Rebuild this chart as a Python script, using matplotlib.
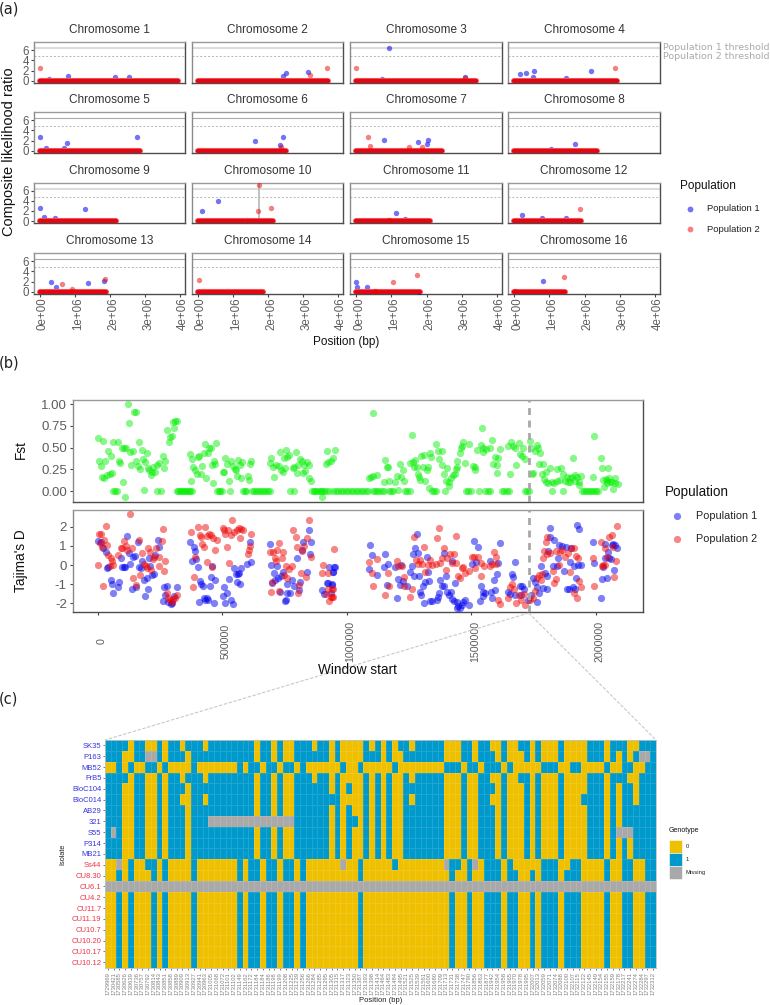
import numpy as np
import matplotlib
matplotlib.use("Agg")
import matplotlib.pyplot as plt
from matplotlib.colors import ListedColormap
from matplotlib.lines import Line2D
from matplotlib.patches import Rectangle
from matplotlib.transforms import ScaledTranslation

plt.rcParams['font.family'] = ['Liberation Sans', 'DejaVu Sans']

W, H = 770, 1005

# ====== Panel (a): composite likelihood ratio ======
chrom_len = [3.95, 3.72, 3.40, 2.91, 2.85, 2.52, 2.44, 2.34, 2.16, 2.14, 2.10, 1.91, 1.88, 1.86, 1.81, 1.45]
threshold_pop1 = 6.39
threshold_pop2 = 4.77

# (chromosome, position in Mb, CLR)
clr_pop1 = [
    (1, 0.26, 0.3), (1, 0.8, 0.97), (1, 2.15, 0.77), (1, 2.53, 0.77),
    (2, 2.43, 0.9), (2, 2.5, 1.55), (2, 3.14, 1.68),
    (3, 0.73, 0.3), (3, 0.94, 6.39), (3, 3.1, 0.84),
    (4, 0.17, 1.35), (4, 0.35, 1.55), (4, 0.56, 1.94), (4, 0.55, 0.77), (4, 1.46, 0.5), (4, 2.17, 2.0),
    (5, 0.0, 2.77), (5, 0.17, 0.65), (5, 0.76, 1.6), (5, 0.69, 0.5), (5, 2.77, 2.77),
    (6, 1.64, 1.94), (6, 2.43, 2.77), (6, 2.34, 1.1),
    (7, 0.8, 2.13), (7, 1.75, 1.8), (7, 2.04, 2.13), (7, 2.0, 1.35),
    (8, 1.74, 1.42), (8, 1.05, 0.3),
    (9, 0.0, 2.65), (9, 0.11, 0.77), (9, 0.44, 0.7), (9, 1.28, 2.39),
    (10, 0.11, 1.94), (10, 0.57, 3.94), (10, 1.41, 0.2),
    (11, 1.12, 1.55), (11, 1.39, 0.45),
    (12, 0.24, 1.29), (12, 0.8, 0.65), (12, 1.46, 0.65),
    (13, 0.32, 1.87), (13, 0.47, 0.9), (13, 1.37, 1.8), (13, 1.83, 2.2),
    (14, 0.15, 0.2), (14, 0.85, 0.25),
    (15, 0.0, 1.87), (15, 0.03, 0.9), (15, 0.3, 0.97), (15, 1.78, 0.05),
    (16, 0.82, 2.13),
]
clr_pop2 = [
    (1, 0.0, 2.45),
    (2, 3.19, 1.16), (2, 3.68, 2.58),
    (3, 0.0, 2.58), (3, 3.1, 0.65),
    (4, 2.87, 2.58),
    (6, 2.38, 0.77),
    (7, 0.33, 2.65), (7, 0.39, 0.97), (7, 1.49, 0.7), (7, 1.88, 0.7),
    (10, 1.73, 7.23), (10, 1.70, 2.0), (10, 2.09, 2.52),
    (11, 0.94, 0.2),
    (12, 1.87, 2.39),
    (13, 0.62, 1.6), (13, 0.91, 0.58), (13, 1.85, 2.5),
    (14, 0.02, 2.32),
    (15, 0.53, 0.2), (15, 1.06, 2.0), (15, 1.74, 3.2),
    (16, 0.02, 0.2), (16, 1.42, 2.84),
]
chrom10_peak = 1.73

# ====== Panel (b): Fst and Tajima's D, window start in kb ======
focal_window = 1731
fst_zero_start = [
    62, 68, 75, 236, 252, 316, 322, 328, 334, 340, 346, 352, 358, 364, 370, 376, 480, 486, 492, 497, 531,
    584, 590, 596, 618, 626, 634, 642, 650, 658, 666, 674, 682, 690, 772, 788,
    860, 867, 874, 881, 888, 895, 902, 909, 915, 930, 946, 955, 965, 975, 985, 995, 1005, 1015, 1025, 1035,
    1045, 1055, 1065, 1075, 1085, 1104, 1112, 1120, 1130, 1142, 1150, 1171, 1178, 1186, 1234, 1242, 1252,
    1341, 1350, 1360, 1395, 1479, 1488, 1497, 1531, 1556, 1566, 1575, 1623, 1632, 1642, 1650, 1716, 1724, 1732,
    1824, 1870, 1944, 1952, 1960, 1968, 1976, 1985, 1993, 2002, 2010,
]
fst_windows = [
    (0, .605), (20, .58), (5, .345), (11, .285), (15, .165), (29, .345), (25, .15), (38, .18), (50, .19), (58, .205),
    (60, .567), (80, .563), (42, .465), (51, .405), (100, .1), (110, -.065), (86, .35), (90, .32), (96, .49), (105, .49),
    (114, .49), (120, 1.0), (126, .78), (145, .905), (153, .905), (129, .45), (142, .46), (134, .30), (151, .345),
    (165, .567), (162, .29), (176, .467), (181, .37), (189, .33), (196, .433), (170, .253), (185, .01), (201, .26),
    (206, .24), (212, .18), (217, .215), (222, .275), (228, .215), (236, .30), (245, .32), (261, .405), (264, .27),
    (271, .345), (277, .70), (285, .56), (289, .625), (296, .63), (304, .73), (301, .79), (310, .805), (318, .81),
    (370, .43), (375, .115), (379, .365), (383, .28), (391, .24), (397, .195), (401, .395), (407, .405), (415, .195),
    (419, .29), (426, .433), (430, .54), (435, .155), (444, .44), (446, .50), (453, .50), (457, .30), (461, .095),
    (466, .345), (470, .31), (476, .55), (501, .215), (507, .215), (511, .375), (518, .31), (525, .115), (536, .345),
    (541, .29), (549, .25), (555, .24), (560, .175), (564, .355), (570, .30), (576, .145), (580, .33), (602, .175),
    (606, .13), (611, .305), (615, .35), (690, .32), (696, .38), (706, .165), (705, .28), (716, .30), (726, .29),
    (731, .445), (734, .24), (742, .215), (748, .375), (753, .27), (756, .467), (761, .39), (769, .415), (782, .26),
    (788, .28), (795, .445), (800, .205), (805, .30), (812, .37), (819, .345), (823, .21), (828, .30), (833, .23),
    (840, .33), (847, .30), (849, .145), (856, .12), (900, -.07), (915, .305), (919, .46), (926, .33), (935, .35),
    (946, .375), (953, .47), (1104, .897), (1096, .165), (1091, .153), (1104, .176), (1120, .18), (1150, .10),
    (1171, .12), (1155, .356), (1163, .28), (1167, .28), (1207, .01), (1194, .103), (1200, .172), (1214, .314),
    (1225, .245), (1217, .165), (1230, .12), (1261, .644), (1254, .318), (1265, .33), (1274, .356), (1268, .276),
    (1281, .272), (1285, .195), (1294, .126), (1292, .165), (1298, .40), (1310, .414), (1308, .272), (1314, .12),
    (1328, .272), (1321, .24), (1335, .44), (1330, .03), (1340, .387), (1360, .54), (1365, .46), (1381, .46),
    (1371, .368), (1381, .30), (1391, .195), (1401, .26), (1399, .115), (1412, .107), (1417, .153), (1411, .057),
    (1426, .184), (1435, .19), (1442, .28), (1444, .345), (1439, .25), (1455, .44), (1458, .50), (1466, .567),
    (1463, .517), (1474, .318), (1490, .54), (1509, .287), (1514, .272), (1517, .24), (1525, .47), (1538, .53),
    (1545, .728), (1549, .45), (1549, .49), (1558, .48), (1576, .50), (1584, .586), (1594, .39), (1609, .383),
    (1589, .31), (1602, .30), (1605, .207), (1616, .48), (1648, .52), (1656, .19), (1660, .56), (1669, .52),
    (1676, .50), (1690, .548), (1706, .50), (1680, .30), (1694, .425), (1703, .40), (1714, .368), (1737, .575),
    (1743, .19), (1741, .49), (1750, .21), (1755, .46), (1763, .53), (1767, .50), (1777, .433), (1771, .306),
    (1790, .306), (1786, .195), (1794, .138), (1801, .215), (1801, .107), (1810, .088), (1817, .26), (1824, .107),
    (1833, .088), (1846, .12), (1846, .253), (1860, .26), (1857, .13), (1870, .19), (1877, .115), (1884, .165),
    (1887, .10), (1895, .145), (1897, .10), (1904, .165), (1908, .375), (1917, .115), (1924, .165), (1933, .07),
    (1940, .176), (1915, .184), (1931, .10), (1991, .165), (1995, .636), (2020, .383), (2025, .26), (2051, .27),
    (2031, .126), (2035, .05), (2042, .138), (2047, .12), (2055, .146), (2065, .107), (2069, .023), (2078, .146),
    (2078, .088), (2088, .077), (2058, .107), (2045, .088),
]
tajima_pop1 = [
    (0, 1.28), (11, 1.23), (21, .88), (31, .67), (38, -.18), (42, -.09), (51, -.77), (56, -.98), (62, -1.47), (79, -1.14),
    (86, -.89), (91, .35), (98, -.12), (105, -.12), (110, -.12), (115, 1.51), (126, .65), (130, .04), (135, -1.23),
    (142, .44), (149, .47), (151, -1.14), (161, 1.18), (165, -.09), (172, -.18), (178, .21), (185, -.81), (190, -1.61),
    (196, -.67), (201, -1.23), (206, .35), (209, -.04), (216, -.53), (225, -.47), (230, .53), (241, 1.3), (247, .96),
    (261, -1.91), (264, -1.16), (276, -1.1), (271, -1.58), (283, -1.93), (292, -2.02), (296, -2), (316, -1.14), (307, -1.6),
    (371, 1.19), (379, .23), (386, .96), (394, .32), (391, .74), (402, -.12), (406, -1.95), (410, -.84), (415, -.98),
    (421, -1.12), (425, -1.72), (430, -1.82), (437, -1.72), (442, -1.84), (450, -1.12), (456, -.63), (458, -.05), (466, -2),
    (472, -.79), (501, -1.61), (507, -1.14), (512, -1.98), (520, -1.49), (527, -.74), (535, -1.84), (541, -2.05), (548, -.14),
    (553, -.49), (561, -.47), (567, -.44), (557, -.89), (571, -.98), (576, -.14), (600, .04), (615, .18), (611, 1.18),
    (690, 1.1), (695, -.02), (701, -.96), (706, -.4), (712, -.79), (719, -.07), (725, -.67), (735, -.6), (742, -.39),
    (732, -1.4), (750, -1.9), (756, -1.84), (761, -1.44), (772, -1.44), (761, -1.02), (780, -.79), (787, -1.12), (800, .35),
    (808, -1.32), (812, -.91), (819, .79), (825, 1.18), (840, -.35), (846, 1.81), (855, 1.23), (850, .6),
    (900, -1.33), (908, -1.54), (919, -.96), (926, -.96), (941, -1.05), (930, -.09), (951, -.09), (946, -.35), (936, -1.44),
    (949, -.09), (943, -.35), (939, -1.0), (1095, 1.04), (1100, .51), (1091, -.21), (1120, -.51), (1155, .58), (1150, -.09),
    (1167, .04), (1160, -1.05), (1195, -.1), (1200, -1.72), (1206, -.74), (1214, -1.05), (1225, -.86), (1217, 0), (1241, -1.1),
    (1255, -.35), (1262, -.05), (1265, .58), (1270, -.58), (1274, .89), (1284, .61), (1289, -.58), (1281, 1.63), (1294, -1.4),
    (1300, -1.58), (1305, -1.1), (1310, -2), (1316, -.88), (1321, .44), (1329, -.82), (1325, -.35), (1336, -1.91), (1344, -1.89),
    (1361, -1.84), (1365, -1.68), (1371, -1.49), (1375, -.81), (1381, -1.1), (1389, -1.12), (1389, .61), (1400, -.58),
    (1404, -1.4), (1410, -1.58), (1418, -1.4), (1424, .23), (1422, -1.79), (1435, -.93), (1431, -1.88), (1442, -1.93),
    (1448, -2.14), (1444, -2.25), (1455, -2.25), (1462, -2.1), (1468, -1.96), (1475, -1.84), (1490, -2.1), (1510, 1.28),
    (1526, .96), (1505, .04), (1518, .14), (1534, -1.89), (1540, -1.1), (1546, -1.61), (1549, -1.4), (1557, -1.44), (1576, .21),
    (1581, -1.4), (1585, -1.72), (1590, -.79), (1596, -1.3), (1605, -.47), (1616, 1.16), (1609, .09), (1649, -1.4), (1657, -1.53),
    (1664, -.49), (1669, -.61), (1676, .14), (1676, -1.58), (1694, -1.1), (1703, -1.1), (1712, -1.23), (1699, -1.58),
    (1730, -1.84), (1739, -1.58), (1747, -.67), (1755, -.91), (1763, -1.14), (1764, -1.95), (1773, -1.49), (1781, -.04),
    (1787, -1.19), (1797, -.44), (1803, -.58), (1803, -1.23), (1810, .75), (1815, 1.95), (1817, 1.46), (1828, -.04), (1834, 1.32),
    (1846, -.05), (1854, 1.05), (1848, .35), (1864, 1.02), (1873, -.32), (1880, .96), (1884, -1.23), (1892, -1.23), (1895, .18),
    (1899, .91), (1907, -1.14), (1911, -.05), (1917, -1.23), (1920, -.67), (1926, 2.07), (1928, 0), (1935, 1.89), (1941, .02),
    (1990, 1.19), (1995, .1), (2021, -1.72), (2025, -.74), (2031, -.12), (2037, .35), (2038, 1.09), (2045, -.67), (2050, .7),
    (2055, .35), (2061, .32), (2066, 1.05), (2071, 1.09), (2074, -.26), (2078, 1.05), (2085, .88),
]
tajima_pop2 = [
    (0, 0), (5, 1.63), (11, 1.63), (8, 1.14), (21, -1.12), (31, 2.05), (38, 1.05), (16, .96), (24, 1.32), (42, .53), (51, .35),
    (55, .23), (48, -.04), (62, 0), (82, .53), (91, .88), (98, .88), (105, 1.28), (113, 1.02), (115, .79), (135, .91), (130, 2.67),
    (142, -.7), (151, -1.05), (165, 1.32), (170, -.53), (178, .61), (186, .04), (192, -.04), (201, .91), (209, .7), (196, -.18),
    (212, -.26), (220, .3), (225, .44), (233, .88), (244, .44), (247, -.05), (257, 1.28), (261, 1.88), (264, -.3), (271, .21),
    (279, -1.49), (283, -1.72), (289, -1.84), (296, -1.93), (303, -1.79), (310, -1.72), (316, -1.58),
    (375, 1.75), (381, -1.14), (386, -.65), (390, .44), (400, 1.98), (410, 1.58), (414, 1.46), (418, 1.09), (425, .93), (430, 1.98),
    (437, 1.54), (446, 1.61), (453, 1.58), (464, 1.4), (458, -.09), (437, .14), (472, .79), (477, 1.3), (501, 1.96), (511, 1.61),
    (508, 1.82), (518, .96), (525, .12), (524, 1.82), (533, 1.58), (540, 2.35), (548, 1.75), (560, 1.84), (566, 1.96), (571, 1.44),
    (576, 1.88), (584, 1.84), (602, .58), (607, .79), (611, 1.02), (615, 1.63),
    (690, .7), (705, .7), (695, -1.4), (701, -.91), (712, .35), (721, .79), (726, 1.16), (716, .21), (739, .35), (745, .67),
    (727, -1.37), (748, -.53), (756, -.05), (761, -.67), (769, -.23), (781, -.04), (785, 1.84), (796, 1.46), (800, .93), (808, -1.05),
    (805, -1.44), (816, -.42), (821, .75), (828, 1.02), (836, -.61), (839, 1.4), (846, 2.37), (855, .4),
    (899, -.42), (906, 0), (923, -.4), (950, .82), (946, -1.23), (917, -1.54), (930, -1.89), (936, -1.67), (946, -1.67), (926, -1.23),
    (939, -1.26), (939, -1.67), (1091, .14), (1100, -.4), (1104, -1.1), (1120, .33), (1155, -1.58), (1167, -.4), (1171, -1.1),
    (1200, .21), (1207, -.05), (1222, -.05), (1230, -1.1), (1230, -.61), (1254, -1.68), (1262, -1.23), (1270, 1.46), (1278, .26),
    (1284, .04), (1294, .26), (1301, .04), (1310, .96), (1314, -.35), (1328, 0), (1335, .26), (1341, 0), (1359, .04), (1364, 1.39),
    (1369, 1.95), (1375, .09), (1381, .35), (1391, .88), (1399, -.26), (1404, .35), (1415, .58), (1422, .09), (1431, .56), (1440, 1.54),
    (1438, .09), (1448, -.56), (1455, -.7), (1462, -.18), (1468, -.09), (1475, -.44), (1489, -.32), (1502, .44), (1511, .44),
    (1515, -.18), (1526, .44), (1540, .09), (1540, -.58), (1553, -.05), (1576, -.05), (1585, .04), (1592, .68), (1598, .4), (1598, .05),
    (1609, -1.84), (1616, -2.02), (1649, -1.72), (1656, -1.14), (1665, -1.02), (1672, -1.23), (1680, -2), (1690, -1.58), (1699, -1.84),
    (1710, -1.54), (1716, -2.09), (1737, -1.81), (1747, -1.75), (1755, -1.37), (1763, -.7), (1774, -.53), (1779, -.79), (1785, -.49),
    (1790, .39), (1794, .75), (1801, 1.23), (1806, 1.46), (1803, .56), (1817, .61), (1828, -.3), (1834, -.96), (1841, -.74), (1841, .75),
    (1857, .7), (1854, 0), (1866, .79), (1877, .44), (1887, .61), (1895, -.35), (1900, .88), (1911, .88), (1920, .49), (1929, .39),
    (1935, -.84), (1940, -1.14), (1911, -1.44), (1924, -1.72), (1990, .35), (1995, -1.1), (2021, 1.23), (2025, -.04), (2031, 0),
    (2039, 0), (2045, .44), (2054, 1.46), (2065, 1.58), (2071, .96), (2074, -.61), (2080, .21), (2085, 2.02), (2038, .91),
]

# ====== Panel (c): genotype table, 0 / 1 / M(issing), one string per isolate ======
isolates = ['SK35', 'P163', 'MB52', 'FrB5', 'BloC104', 'BloC014', 'AB29', '321', 'S55', 'P314', 'MB21',
            'Ss44', 'CU8.30', 'CU6.1', 'CU4.2', 'CU11.7', 'CU11.19', 'CU10.7', 'CU10.20', 'CU10.17', 'CU10.12']
n_pop1_isolates = 11
snp_positions = [
    1729969, 1730421, 1730585, 1730626, 1730639, 1730736, 1730757, 1730792, 1730814, 1730843,
    1730851, 1730858, 1730889, 1730909, 1730913, 1730927, 1730941, 1730963, 1731005, 1731068,
    1731072, 1731101, 1731102, 1731149, 1731162, 1731172, 1731184, 1731184, 1731186, 1731198,
    1731199, 1731208, 1731225, 1731239, 1731256, 1731266, 1731284, 1731285, 1731295, 1731305,
    1731315, 1731317, 1731323, 1731350, 1731387, 1731393, 1731398, 1731414, 1731464, 1731483,
    1731484, 1731495, 1731521, 1731525, 1731539, 1731561, 1731600, 1731680, 1731709, 1731713,
    1731731, 1731738, 1731747, 1731790, 1731856, 1731863, 1731877, 1731942, 1731954, 1731958,
    1731965, 1731970, 1731978, 1731995, 1732007, 1732013, 1732059, 1732071, 1732074, 1732088,
    1732100, 1732107, 1732115, 1732122, 1732145, 1732149, 1732154, 1732155, 1732159, 1732178,
    1732217, 1732241, 1732274, 1732284, 1732297, 1732312,
]
cu_row = "0010100010 1000010000 0001011011 0110100000 0000100000 0000000000 1001001110 1100101110 1110000100 110011"
genotypes = [
    "1111011001 0110111011 1111110110 1001110110 1000010101 0110111110 0011011001 0011010001 0000111011 100111",
    "1110011MM1 0111011111 1111110110 1001111110 1000011101 0011111110 0011011101 0001010001 0000111010 101MM1",
    "0010100110 1000010000 0001011011 0110100000 0100100000 1000000001 1101101110 1000001110 0110000100 110011",
    "1111011001 0110111011 1111110110 1001110110 1000010101 0010111110 0010011001 0011010001 0000111011 100111",
    "1110011001 0111011111 1111110110 1001111110 1010010101 0011111110 0010011101 0001010001 0000111010 110111",
    "1110011001 0110011011 1111110110 1001111111 1000010101 0010111110 0010011001 0001010001 0001111010 110111",
    "1110011001 0111011111 1111110110 1001111110 1010010101 0011111110 0010011101 0001010001 0000111010 111111",
    "1110011001 01110111MM MMMMMMMMMM MMM1111110 1011010101 0011111110 0010011101 0001010001 0000111010 111111",
    "1M10011001 0111011111 1111110110 1001111110 1010010101 0011111110 0010011101 0001010001 000011101M MM1111",
    "1110011001 0111011111 1111110110 1001111110 1010010101 0011111110 0010011101 0001010001 0000111010 101111",
    "1110011001 0111011111 1111110110 1001111110 1010010101 0011111110 0010011101 0001010001 0000111010 101111",
    "00M0100110 1000010000 0001011011 0110100000 0M00100000 100000000M 1101M01110 1000001110 0110000100 110011",
    cu_row,
    "MMMMMMMMMM MMMMMMMMMM MMMMMMMMMM MMMMMMMMMM MMMMMMMMMM MMMMMMMMMM MMMMMMMMMM MMMMMMMMMM MMMMMMMMMM MMMMMM",
    cu_row, cu_row, cu_row, cu_row, cu_row, cu_row, cu_row,
]
genotype_levels = ['0', '1', 'Missing']

# ====== Styles ======
POP1_COLOR = '#0000ee'
POP2_COLOR = '#ee0000'
GENO_COLORS = ['#EFC000', '#0099CC', '#A9A9A9']
TICK_COLOR = '#5c5c5c'


def px_axes(fig, x0, y0, x1, y1):
    ax = fig.add_axes([x0 / W, 1 - y1 / H, (x1 - x0) / W, (y1 - y0) / H])
    ax.spines['top'].set_color('#9a9a9a')
    ax.spines['left'].set_color('#8a8a8a')
    ax.spines['right'].set_color('#4d4d4d')
    ax.spines['bottom'].set_color('#4d4d4d')
    for s in ax.spines.values():
        s.set_linewidth(1.0)
    return ax


def ftext(fig, x, y, s, **kwargs):
    kwargs.setdefault('ha', 'left')
    kwargs.setdefault('va', 'center')
    return fig.text(x / W, 1 - y / H, s, **kwargs)


def shift_labels(ax, fig, dx_px):
    # rotated tick labels sit a little to the right of their ticks, as in ggplot
    offset = ScaledTranslation(dx_px / fig.dpi, 0, fig.dpi_scale_trans)
    for label in ax.get_xticklabels():
        label.set_va('center')
        label.set_transform(label.get_transform() + offset)


fig = plt.figure(figsize=(W / 100, H / 100), dpi=100)

# ------ (a) ------
col_x = [(34, 185), (192, 343), (350, 502), (508, 660)]
row_y = [(42, 83), (112, 153), (183, 223), (253, 294)]
pop1_arr = np.array(clr_pop1)
pop2_arr = np.array(clr_pop2)

for i in range(16):
    r, c = i // 4, i % 4
    ax = px_axes(fig, col_x[c][0], row_y[r][0], col_x[c][1], row_y[r][1])
    chrom = i + 1

    # faint in the odd rows of the reference, thin and darker in the even ones
    if r % 2 == 0:
        ax.axhline(threshold_pop1, color='#dcdcdc', lw=1.5, zorder=1)
    else:
        ax.axhline(threshold_pop1, color='#aaaaaa', lw=0.8, zorder=1)
    ax.axhline(threshold_pop2, color='#b5b5b5', lw=0.7, ls=(0, (2, 2)), zorder=1)
    if chrom == 10:
        ax.axvline(chrom10_peak, color='#b8b8b8', lw=1.2, zorder=1)

    p1 = pop1_arr[pop1_arr[:, 0] == chrom]
    p2 = pop2_arr[pop2_arr[:, 0] == chrom]
    ax.scatter(p1[:, 1], p1[:, 2], s=15, color=POP1_COLOR, alpha=0.55, lw=0, zorder=3)
    ax.plot([0, chrom_len[i]], [0, 0], color='#f36a6a', lw=4.4, solid_capstyle='round', zorder=4)
    ax.plot([0, chrom_len[i]], [0, 0], color='#e30613', lw=3.2, solid_capstyle='round', zorder=4)
    ax.scatter(p2[:, 1], p2[:, 2], s=15, color=POP2_COLOR, alpha=0.5, lw=0, zorder=5)

    ax.set_xlim(-0.171, 4.14)
    ax.set_ylim(-0.39, 7.55)
    ax.set_title(f"Chromosome {chrom}", fontsize=8.5, color='#333333', pad=6.5)
    ax.set_xticks([0, 1, 2, 3, 4])
    ax.set_yticks([0, 2, 4, 6])
    ax.tick_params(length=2, width=0.8, color='#444444', labelsize=8.3, labelcolor=TICK_COLOR, pad=1.5)
    if r == 3:
        ax.set_xticklabels(['0e+00', '1e+06', '2e+06', '3e+06', '4e+06'], rotation=90)
        ax.tick_params(axis='x', pad=12)
        shift_labels(ax, fig, 3)
    else:
        ax.tick_params(axis='x', bottom=False, labelbottom=False)
    if c != 0:
        ax.tick_params(axis='y', left=False, labelleft=False)

ftext(fig, -1, 9, '(a)', fontsize=10.5, family='DejaVu Sans', color='#222222')
ftext(fig, 663, 47.5, 'Population 1 threshold', fontsize=6.8, family='DejaVu Sans', color='#aaaaaa')
ftext(fig, 663, 56, 'Population 2 threshold', fontsize=6.8, family='DejaVu Sans', color='#aaaaaa')
ftext(fig, 9, 152, 'Composite likelihood ratio', fontsize=10.5, rotation=90, ha='center', color='#111111')
ftext(fig, 346, 341.5, 'Position (bp)', fontsize=8.5, ha='center', color='#111111')

ftext(fig, 680, 186, 'Population', fontsize=8.5, color='#111111')
ftext(fig, 706.7, 208.7, 'Population 1', fontsize=6.8, color='#222222')
ftext(fig, 706.7, 229.3, 'Population 2', fontsize=6.8, color='#222222')
fig.add_artist(Line2D([690.3 / W], [1 - 208.7 / H], marker='o', ms=4.2, mew=0, color=POP1_COLOR, alpha=0.55))
fig.add_artist(Line2D([690.3 / W], [1 - 229.3 / H], marker='o', ms=4.2, mew=0, color=POP2_COLOR, alpha=0.5))

# ------ (b) ------
fst_arr = np.array(fst_windows)
taj1_arr = np.array(tajima_pop1)
taj2_arr = np.array(tajima_pop2)
zero_x = np.array(fst_zero_start) * 1000
xlim_b = (-100500, 2189000)

ax_f = px_axes(fig, 73, 400, 642.7, 502)
ax_f.scatter(fst_arr[:, 0] * 1000, fst_arr[:, 1], s=27, color='#00ee00', alpha=0.47, lw=0, zorder=3)
ax_f.scatter(zero_x, np.zeros(len(zero_x)), s=27, color='#00ee00', alpha=0.47, lw=0, zorder=3)
ax_f.axvline(focal_window * 1000, color='#a8a8a8', lw=2, ls=(0, (2.5, 2)), zorder=4)
ax_f.set_xlim(*xlim_b)
ax_f.set_ylim(-0.126, 1.046)
ax_f.set_yticks([0, 0.25, 0.5, 0.75, 1.0])
ax_f.set_yticklabels(['0.00', '0.25', '0.50', '0.75', '1.00'])
ax_f.tick_params(axis='y', length=2.5, width=0.8, color='#444444', labelsize=9.5, labelcolor=TICK_COLOR, pad=2)
ax_f.tick_params(axis='x', bottom=False, labelbottom=False)

ax_t = px_axes(fig, 73, 510, 642.7, 612)
ax_t.scatter(taj1_arr[:, 0] * 1000, taj1_arr[:, 1], s=27, color=POP1_COLOR, alpha=0.5, lw=0, zorder=3)
ax_t.scatter(taj2_arr[:, 0] * 1000, taj2_arr[:, 1], s=27, color=POP2_COLOR, alpha=0.48, lw=0, zorder=3)
ax_t.axvline(focal_window * 1000, color='#a8a8a8', lw=2, ls=(0, (2.5, 2)), zorder=4)
ax_t.set_xlim(*xlim_b)
ax_t.set_ylim(-2.46, 2.88)
ax_t.set_yticks([-2, -1, 0, 1, 2])
ax_t.set_yticklabels(['-2', '-1', '0', '1', '2'])
ax_t.set_xticks([0, 500000, 1000000, 1500000, 2000000])
ax_t.set_xticklabels(['0', '500000', '1000000', '1500000', '2000000'], rotation=90)
ax_t.tick_params(axis='y', length=2.5, width=0.8, color='#444444', labelsize=9.5, labelcolor=TICK_COLOR, pad=2)
ax_t.tick_params(axis='x', length=2.5, width=0.8, color='#444444', labelsize=7.7, labelcolor=TICK_COLOR, pad=18.5)
shift_labels(ax_t, fig, 3.5)

ftext(fig, -1, 363, '(b)', fontsize=10.5, family='DejaVu Sans', color='#222222')
ftext(fig, 21, 450, 'Fst', fontsize=9.85, rotation=90, ha='center', color='#111111')
ftext(fig, 21, 561, "Tajima's D", fontsize=9.85, rotation=90, ha='center', color='#111111')
ftext(fig, 357, 670, 'Window start', fontsize=9.85, ha='center', color='#111111')
ftext(fig, 665, 492, 'Population', fontsize=9.75, color='#111111')
ftext(fig, 695.7, 515.7, 'Population 1', fontsize=7.8, color='#222222')
ftext(fig, 695.7, 539.3, 'Population 2', fontsize=7.8, color='#222222')
fig.add_artist(Line2D([677 / W], [1 - 515.7 / H], marker='o', ms=5.2, mew=0, color=POP1_COLOR, alpha=0.5))
fig.add_artist(Line2D([677 / W], [1 - 539.3 / H], marker='o', ms=5.2, mew=0, color=POP2_COLOR, alpha=0.48))

# ------ (c) ------
code = {'0': 0, '1': 1, 'M': 2}
geno_matrix = np.array([[code[g] for g in row.replace(' ', '')] for row in genotypes])
n_rows, n_cols = geno_matrix.shape

ax_c = fig.add_axes([105 / W, 1 - 967.7 / H, (656 - 105) / W, (967.7 - 740) / H])
ax_c.pcolormesh(np.arange(n_cols + 1), np.arange(n_rows + 1), geno_matrix,
                cmap=ListedColormap(GENO_COLORS), vmin=0, vmax=2,
                edgecolors=(1, 1, 1, 0.12), linewidth=0.4)
ax_c.set_xlim(0, n_cols)
ax_c.set_ylim(n_rows, 0)
for s in ax_c.spines.values():
    s.set_color('#c0c0c0')
    s.set_linewidth(0.6)
ax_c.set_xticks(np.arange(n_cols) + 0.5)
ax_c.set_xticklabels([str(p) for p in snp_positions], rotation=90)
ax_c.set_yticks(np.arange(n_rows) + 0.5)
ax_c.set_yticklabels(isolates)
ax_c.tick_params(axis='x', length=1.5, width=0.5, color='#444444', labelsize=4.2, labelcolor='#808080', pad=1.5)
ax_c.tick_params(axis='y', length=1.5, width=0.5, color='#444444', labelsize=5.5, pad=1)
for i, label in enumerate(ax_c.get_yticklabels()):
    label.set_color('#3535e0' if i < n_pop1_isolates else '#ee3344')

ftext(fig, -1, 699, '(c)', fontsize=10.5, family='DejaVu Sans', color='#222222')
ftext(fig, 62.7, 854, 'Isolate', fontsize=5.3, rotation=90, ha='center', color='#222222')
ftext(fig, 380.7, 1000, 'Position (bp)', fontsize=5.5, ha='center', color='#222222')
ftext(fig, 669, 830, 'Genotype', fontsize=5, color='#111111')
for i, level in enumerate(genotype_levels):
    y_top = 840 + i * 13
    fig.add_artist(Rectangle((669.3 / W, 1 - (y_top + 13) / H), 12.4 / W, 13 / H,
                             transform=fig.transFigure, facecolor=GENO_COLORS[i], edgecolor='white', lw=0.4))
    ftext(fig, 686, y_top + 6.5, level, fontsize=4.25, color='#222222')

# ------ zoom lines from the focal window to the table ------
for x_end in (105, 656):
    fig.add_artist(Line2D([528.7 / W, x_end / W], [1 - 613 / H, 1 - 740 / H],
                          color='#c8c8c8', lw=0.8, ls=(0, (3, 1.5))))

plt.savefig('out.png', dpi=100)
